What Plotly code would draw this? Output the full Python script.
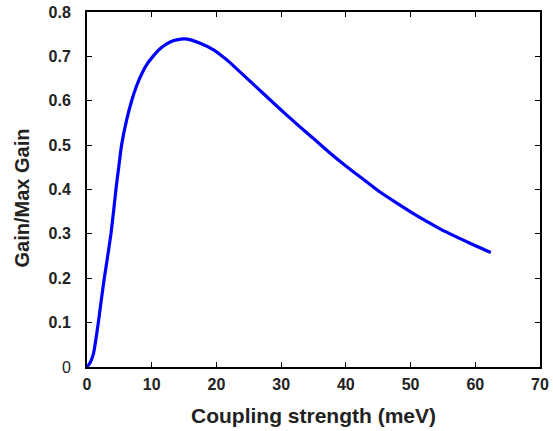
import plotly.graph_objects as go

# coupling strength (meV) and normalised gain
coupling = [0, 0.5, 1.0, 1.4, 1.75, 2.2, 2.67, 3.2, 3.7, 4.1, 4.47, 4.9, 5.34, 6.1, 6.9, 7.7, 8.5,
            9.3, 10.2, 11.2, 12.2, 13.3, 14.5, 15.5, 17.4, 19.5, 21.0, 22.0, 24.6, 27.2, 29.7,
            32.3, 34.9, 37.4, 40.0, 42.6, 45.1, 47.7, 50.3, 52.9, 55.4, 58.0, 60.2, 62.4]
gain = [0, 0.01, 0.03, 0.065, 0.1, 0.15, 0.2, 0.25, 0.3, 0.35, 0.4, 0.45, 0.5, 0.555, 0.6, 0.635, 0.662,
        0.683, 0.7, 0.716, 0.727, 0.735, 0.739, 0.739, 0.730, 0.715, 0.699, 0.687, 0.652, 0.617, 0.583,
        0.549, 0.516, 0.484, 0.453, 0.424, 0.396, 0.371, 0.347, 0.325, 0.305, 0.287, 0.272, 0.258]

xticks = [0, 10, 20, 30, 40, 50, 60, 70]
yticks = [0, 0.1, 0.2, 0.3, 0.4, 0.5, 0.6, 0.7, 0.8]
ylabels = ["0"] + ["<b>%g</b>" % v for v in yticks[1:]]

FONT = "Liberation Sans"
INK = "#222"

fig = go.Figure()
fig.add_trace(go.Scatter(x=coupling, y=gain, mode="lines",
                         line=dict(color="#0000ff", width=3.2, shape="spline", smoothing=0.5)))

axis_style = dict(showgrid=False, zeroline=False, showline=True, linecolor="black",
                  linewidth=2, mirror="ticks", ticks="inside", ticklen=5, tickwidth=1.2,
                  tickcolor="black", automargin=False,
                  tickfont=dict(family=FONT, size=16, color=INK))

fig.update_xaxes(range=[0, 70], tickvals=xticks, ticktext=["<b>%d</b>" % v for v in xticks],
                 ticklabelstandoff=2, **axis_style)
fig.update_yaxes(range=[0, 0.8], tickvals=yticks, ticktext=ylabels,
                 ticklabelstandoff=11, **axis_style)

# axis titles
fig.add_annotation(text="<b>Coupling strength (meV)</b>", xref="paper", yref="paper",
                   x=0.5, y=0, yanchor="middle", yshift=-48, showarrow=False,
                   font=dict(family=FONT, size=21, color=INK))
fig.add_annotation(text="<b>Gain/Max Gain</b>", xref="paper", yref="paper",
                   x=0, xanchor="center", xshift=-66, y=0.5, yanchor="middle", yshift=-9,
                   textangle=-90, showarrow=False,
                   font=dict(family=FONT, size=20, color=INK))

fig.update_layout(width=553, height=431, showlegend=False,
                  margin=dict(l=87, r=13, t=12, b=64),
                  plot_bgcolor="white", paper_bgcolor="white")

# page body has a default 8px margin; drop it so the figure fills the window
fig.write_html("out.html", config={"displayModeBar": False},
               post_script="document.body.style.margin='0';")
